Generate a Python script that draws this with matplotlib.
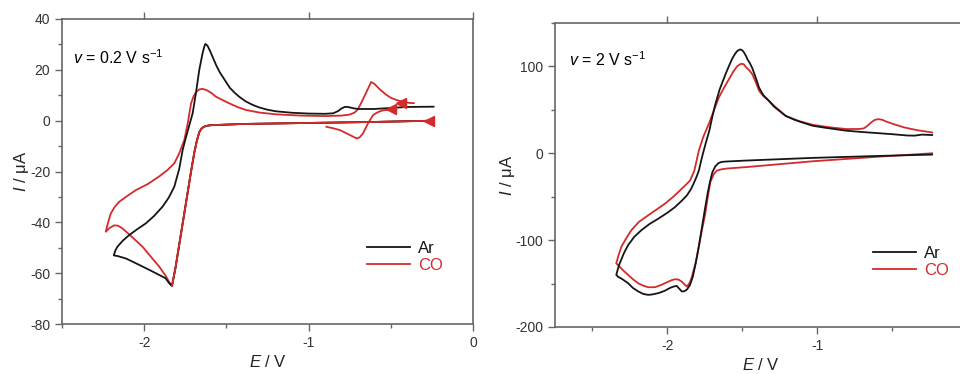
import numpy as np
import matplotlib
matplotlib.use('Agg')
import matplotlib.pyplot as plt
from matplotlib.ticker import MultipleLocator, FixedLocator

plt.rcParams['font.family'] = ['Liberation Sans', 'DejaVu Sans']
plt.rcParams['mathtext.fontset'] = 'custom'
plt.rcParams['mathtext.rm'] = 'Liberation Sans'
plt.rcParams['mathtext.it'] = 'Liberation Sans:italic'
plt.rcParams['axes.unicode_minus'] = False

BLACK = '#151515'; RED = '#d42a2a'; GREY = '#666666'

# ---- 0.2 V/s ----
# forward (cathodic) sweep, shared by Ar and CO
fw02_E = [-0.24, -0.6, -1.0, -1.4, -1.6, -1.63, -1.65, -1.665, -1.68, -1.695, -1.715, -1.74, -1.765,
          -1.79, -1.81, -1.831]
fw02_I = [0, -0.5, -0.9, -1.3, -1.8, -2.2, -3, -4.5, -8, -12.5, -20, -30, -40, -50, -58, -65]
ar02_tail_E = [-1.85, -1.87, -1.909, -1.96, -2.01, -2.06, -2.112, -2.16, -2.185, -2.175, -2.163, -2.13,
               -2.091, -2.04, -1.99, -1.94, -1.888, -1.85, -1.817, -1.787, -1.766, -1.75, -1.735, -1.72,
               -1.705, -1.685, -1.665, -1.645, -1.635, -1.628, -1.615, -1.6, -1.58, -1.56, -1.54, -1.52,
               -1.5, -1.48, -1.45, -1.42, -1.38, -1.34, -1.3, -1.25, -1.2, -1.1, -1.0, -0.9, -0.85,
               -0.82, -0.8, -0.78, -0.76, -0.73, -0.7, -0.6, -0.5, -0.4, -0.24]
ar02_tail_I = [-63.8, -62, -60.7, -59, -57.4, -55.8, -54.2, -53.3, -53, -51, -49.6, -47.2,
               -45, -42.6, -40.4, -37.5, -33.8, -30.2, -26, -19, -11.5, -7.5, -4, -0.5,
               3, 11, 20, 26.5, 29, 30.2, 29.5, 27.5, 24.5, 21.5, 19, 17,
               15, 13, 11, 9.3, 7.5, 6.2, 5.2, 4.3, 3.7, 3.1, 2.8, 2.7, 2.9,
               3.8, 4.8, 5.4, 5.4, 4.9, 4.6, 4.6, 5, 5.4, 5.5]
co02_tail_E = [-1.837, -1.87, -1.909, -1.96, -2.01, -2.07, -2.132, -2.16, -2.183, -2.21, -2.234, -2.215,
               -2.203, -2.18, -2.152, -2.1, -2.05, -1.98, -1.91, -1.86, -1.817, -1.787, -1.756, -1.735,
               -1.715, -1.7, -1.685, -1.665, -1.644, -1.62, -1.59, -1.563, -1.52, -1.482, -1.43, -1.38,
               -1.3, -1.2, -1.05, -0.9, -0.8, -0.75, -0.72, -0.7, -0.68, -0.65, -0.63, -0.62, -0.6,
               -0.57, -0.53, -0.5, -0.46, -0.43, -0.39, -0.36]
co02_tail_I = [-64.7, -61, -57.4, -53.5, -49.6, -46, -42.4, -41.3, -41.2, -42.2, -43.7, -39,
               -36.5, -34, -31.9, -29.5, -27.3, -25, -22, -19.5, -16.8, -12.9, -7.6, -1,
               6.8, 9.5, 11.2, 12.3, 12.5, 12, 10.8, 9.4, 8, 6.8, 5.3, 4.2,
               3.2, 2.5, 2, 1.8, 2, 2.4, 3.2, 4.5, 7, 11, 13.8, 15.2, 14.5,
               12.5, 10.3, 9, 8, 7.5, 7, 6.9]
# small CO loop around -0.7 V
co02_loop_E = [-0.892, -0.85, -0.81, -0.75, -0.72, -0.705, -0.69, -0.669, -0.638, -0.608, -0.58, -0.557,
               -0.52, -0.496, -0.47]
co02_loop_I = [-2.4, -3, -3.7, -5.6, -6.6, -7, -6.6, -5, -1, 2.2, 3.3, 3.9, 4.3, 4.5, 4.8]
arrow02_E = [-0.27, -0.50, -0.44]
arrow02_I = [0, 4.4, 6.9]

# ---- 2 V/s ----
ar2_E = [-0.233, -0.58, -1.03, -1.48, -1.61, -1.64, -1.66, -1.68, -1.70, -1.713, -1.73, -1.75, -1.77,
         -1.79, -1.81, -1.83, -1.85, -1.87, -1.89, -1.904, -1.92, -1.937, -1.96, -1.982, -2.02, -2.06,
         -2.1, -2.128, -2.16, -2.195, -2.23, -2.262, -2.3, -2.33, -2.341, -2.33, -2.318, -2.29, -2.262,
         -2.22, -2.173, -2.12, -2.06, -2.0, -1.948, -1.9, -1.87, -1.845, -1.825, -1.805, -1.79, -1.769,
         -1.745, -1.72, -1.7, -1.68, -1.65, -1.612, -1.59, -1.57, -1.55, -1.535, -1.52, -1.511, -1.5,
         -1.49, -1.475, -1.465, -1.45, -1.433, -1.41, -1.388, -1.36, -1.32, -1.29, -1.25, -1.21, -1.15,
         -1.1, -1.03, -0.95, -0.805, -0.7, -0.58, -0.5, -0.40, -0.35, -0.3, -0.233]
ar2_I = [-1.5, -3, -5.3, -8.4, -9.5, -10, -11.5, -15, -22, -31, -45, -65, -86,
         -107, -126, -142, -152, -157, -159, -159, -156, -152.7, -153.5, -155, -158.5, -161,
         -162.5, -163, -162, -159, -155, -149.6, -145, -142, -140, -133, -126.7, -115, -105.7,
         -96, -88.5, -81.5, -75.2, -68.5, -61.8, -54, -48.5, -42, -35, -27, -20, -4.6,
         11, 26, 42, 56.5, 74, 91, 100, 108, 114, 117.5, 119.2, 119.5, 118.5,
         116.5, 112, 108, 104, 98, 87, 75.6, 67, 60, 54, 48.5, 43, 38.5,
         35.5, 31.7, 29.5, 26, 24.5, 23, 22, 20.5, 20.3, 21.5, 21]
co2_E = [-0.233, -0.58, -1.03, -1.48, -1.6, -1.64, -1.67, -1.69, -1.713, -1.73, -1.747, -1.77, -1.79,
         -1.81, -1.836, -1.85, -1.87, -1.885, -1.904, -1.925, -1.948, -1.97, -1.993, -2.04, -2.083,
         -2.128, -2.16, -2.195, -2.23, -2.262, -2.3, -2.341, -2.325, -2.307, -2.275, -2.24, -2.19,
         -2.128, -2.07, -2.016, -1.96, -1.904, -1.875, -1.848, -1.82, -1.79, -1.76, -1.724, -1.69,
         -1.657, -1.62, -1.59, -1.56, -1.535, -1.515, -1.504, -1.49, -1.475, -1.455, -1.433, -1.41,
         -1.388, -1.36, -1.32, -1.27, -1.21, -1.12, -1.03, -0.92, -0.805, -0.72, -0.69, -0.665,
         -0.64, -0.615, -0.59, -0.565, -0.54, -0.48, -0.42, -0.33, -0.233]
co2_I = [0, -3.8, -9.2, -16, -17.5, -18.5, -20, -24, -33, -50, -69.5, -89, -107.6,
         -125, -142, -149, -153.4, -151, -147.7, -145.5, -145, -146, -147.7, -151.5, -154.2,
         -154.2, -152.5, -149.6, -145, -140, -134, -126.7, -117, -107.6, -98, -88.5, -79,
         -71.4, -64.5, -58, -50, -40.8, -36, -31.3, -20, 3, 19, 33.6, 49,
         64, 76, 85, 94, 100, 102.5, 103, 102.5, 99, 96, 91, 82,
         72, 66, 60, 52, 43, 37, 32.8, 30, 27.9, 28, 28.6, 31.5,
         35.5, 38.5, 39.3, 38.5, 36.6, 33, 29.8, 26.5, 24]

fig = plt.figure(figsize=(9.6, 3.74), dpi=100)
ax1 = fig.add_axes([62/960, 50/374, 411/960, 305/374])
ax2 = fig.add_axes([555/960, 47/374, 412/960, 304/374])

lw = 1.3
ax1.plot(fw02_E + co02_tail_E, fw02_I + co02_tail_I, color=RED, lw=lw, label='CO', zorder=2)
ax1.plot(co02_loop_E, co02_loop_I, color=RED, lw=lw, zorder=2)
ax1.plot(fw02_E + ar02_tail_E, fw02_I + ar02_tail_I, color=BLACK, lw=lw, label='Ar', zorder=3)
ax1.plot(fw02_E, fw02_I, color=RED, lw=lw, zorder=4)
ax1.plot(arrow02_E, arrow02_I, ls='none', marker='<', ms=7, color=RED, zorder=5)

ax2.plot(co2_E, co2_I, color=RED, lw=lw, label='CO', zorder=2)
ax2.plot(ar2_E, ar2_I, color=BLACK, lw=lw, label='Ar', zorder=3)

def style(ax, leg_x, leg_y):
    for s in ax.spines.values():
        s.set_color(GREY); s.set_linewidth(1.2)
    ax.tick_params(which='both', direction='out', colors=GREY, labelcolor='#333333', labelsize=10,
                   top=True, right=False)
    ax.tick_params(which='major', length=5, width=1)
    ax.tick_params(which='minor', length=3, width=1, top=False)
    ax.set_xlabel(r'$E$ / V', fontsize=12, color='#222222', labelpad=3)
    ax.set_ylabel(r'$I$ / μA', fontsize=12, color='#222222', labelpad=-1)
    h, l = ax.get_legend_handles_labels()
    order = [l.index('Ar'), l.index('CO')]
    leg = ax.legend([h[i] for i in order], [l[i] for i in order], frameon=False, fontsize=12,
                    loc='upper left', bbox_to_anchor=(leg_x, leg_y), handlelength=2.6,
                    handletextpad=0.5, labelspacing=0.15, borderaxespad=0)
    for t, c in zip(leg.get_texts(), [BLACK, RED]):
        t.set_color(c)

ax1.set_xlim(-2.5, 0)
ax1.set_ylim(-80, 40)
ax1.xaxis.set_major_locator(MultipleLocator(1))
ax1.xaxis.set_minor_locator(MultipleLocator(0.5))
ax1.yaxis.set_major_locator(MultipleLocator(20))
ax1.yaxis.set_minor_locator(MultipleLocator(10))
ax1.text(0.027, 0.872, r'$v$ = 0.2 V s$^{-1}$', transform=ax1.transAxes, fontsize=11.5, va='center')
style(ax1, 0.725, 0.295)

ax2.set_xlim(-2.75, 0)
ax2.set_ylim(-200, 150)
ax2.xaxis.set_major_locator(FixedLocator([-2, -1]))
ax2.xaxis.set_minor_locator(FixedLocator([-2.5, -1.5, -0.5]))
ax2.yaxis.set_major_locator(MultipleLocator(100))
ax2.yaxis.set_minor_locator(MultipleLocator(50))
ax2.text(0.034, 0.878, r'$v$ = 2 V s$^{-1}$', transform=ax2.transAxes, fontsize=11.5, va='center')
style(ax2, 0.755, 0.29)

fig.savefig('out.png', dpi=100)
